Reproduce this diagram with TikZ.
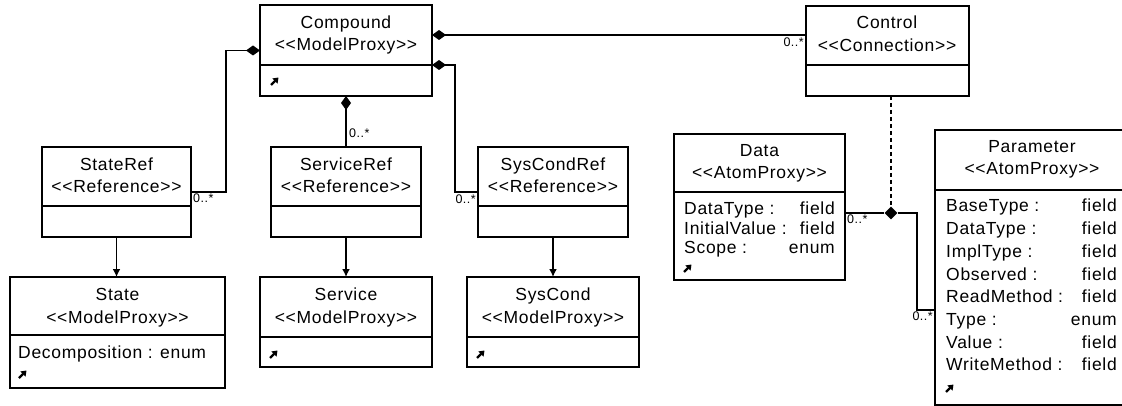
\documentclass[tikz,border=0pt]{standalone}
\usepackage{fontspec}
\setmainfont{Liberation Sans}[LetterSpace=4.0]
\usetikzlibrary{arrows.meta,shapes.geometric,calc}
\tikzset{
  classbox/.style={draw, line width=1.6pt, rectangle, inner sep=0pt, outer sep=0pt},
  divline/.style={line width=1.5pt},
  txt/.style={font=\fontsize{17.5}{20}\selectfont, inner sep=0pt, text height=13pt, text depth=3pt},
  mult/.style={font=\fontsize{12.5}{14}\selectfont, inner sep=1pt},
  conn/.style={line width=1.6pt},
  comp/.style={conn, -{Diamond[length=14pt,width=10pt]}},
  dep/.style={conn, -{Latex[length=8pt,width=8pt]}},
  assocd/.style={diamond, fill=black, inner sep=0pt, minimum width=13pt, minimum height=13pt},
  ico/.pic={\draw[line width=2.4pt, -{Triangle[length=5pt,width=7pt]}] (-4,4) -- (3.5,-3.5);}
}
\newcommand\umlclass[6]{%
  \node[classbox, minimum width={#4-#2}, minimum height={#5-#3}] (#1) at ({(#2+#4)/2},{(#3+#5)/2}) {};
  \draw[divline] (#1.west |- 0,#6) -- (#1.east |- 0,#6);
}
\newcommand\umltitle[6]{%
  \node[txt] (#1-name) at (#2,#3) {#4};
  \node[txt] (#1-stereo) at (#2,#5) {#6};
}
\begin{document}
\begin{tikzpicture}[x=1pt,y=-1pt]
\useasboundingbox (0,0) rectangle (1122,406);
\clip (0,0) rectangle (1122,406);
\fill[white] (0,0) rectangle (1122,406);

% classes
\umlclass{compound}{260}{5}{432}{96}{65}
\umlclass{control}{806}{6}{969}{96}{65}
\umlclass{stateref}{42}{147}{191}{237}{206}
\umlclass{serviceref}{271}{147}{421}{237}{206}
\umlclass{syscondref}{478}{147}{628}{237}{206}
\umlclass{state}{10}{277}{225}{388}{335}
\umlclass{service}{260}{277}{432}{367}{337}
\umlclass{syscond}{467}{277}{639}{367}{337}
\umlclass{data}{674}{134}{845}{280}{192}
\umlclass{parameter}{935}{130}{1129}{405}{190}

% titles
\umltitle{compound}{346}{24}{Compound}{46}{<{}<ModelProxy>{}>}
\umltitle{control}{887}{24}{Control}{47}{<{}<Connection>{}>}
\umltitle{stateref}{116.5}{166}{StateRef}{188}{<{}<Reference>{}>}
\umltitle{serviceref}{346}{166}{ServiceRef}{188}{<{}<Reference>{}>}
\umltitle{syscondref}{553}{166}{SysCondRef}{188}{<{}<Reference>{}>}
\umltitle{state}{117.5}{295}{State}{318}{<{}<ModelProxy>{}>}
\umltitle{service}{346}{295}{Service}{318}{<{}<ModelProxy>{}>}
\umltitle{syscond}{553}{295}{SysCond}{318}{<{}<ModelProxy>{}>}
\umltitle{data}{759.5}{152}{Data}{174}{<{}<AtomProxy>{}>}
\umltitle{parameter}{1032}{148}{Parameter}{170}{<{}<AtomProxy>{}>}

% attributes
\node[txt, anchor=west] (state-a1) at (18,353) {Decomposition : enum};
\foreach \k/\v [count=\i] in {DataType/field, InitialValue/field, Scope/enum}{
  \node[txt, anchor=west] (data-k\i) at (684,{210+19.2*(\i-1)}) {\k{} :};
  \node[txt, anchor=east] (data-v\i) at (835,{210+19.2*(\i-1)}) {\v};
}
\foreach \k/\v [count=\i] in {BaseType/field, DataType/field, ImplType/field, Observed/field, ReadMethod/field, Type/enum, Value/field, WriteMethod/field}{
  \node[txt, anchor=west] (par-k\i) at (946,{207+22.7*(\i-1)}) {\k{} :};
  \node[txt, anchor=east] (par-v\i) at (1117,{207+22.7*(\i-1)}) {\v};
}

% icons
\pic (compound-ico) at (275,81) {ico};
\pic (state-ico) at (23,374) {ico};
\pic (service-ico) at (274,354) {ico};
\pic (syscond-ico) at (481,354) {ico};
\pic (data-ico) at (688,268) {ico};
\pic (parameter-ico) at (950,388) {ico};

% compositions
\draw[comp] (stateref.east) -- ++(35,0) |- (compound.west);
\draw[comp] ([yshift=-29pt]control.north west) -- ([yshift=-29pt]control.north west -| compound.east);
\draw[comp] (syscondref.west) -- ++(-23,0) |- ([yshift=-60pt]compound.north east);
\draw[comp] (serviceref.north) -- (compound.south);

% dependencies
\draw[dep] (stateref.south) -- (stateref.south |- state.north);
\draw[dep] (serviceref.south) -- (service.north);
\draw[dep] (syscondref.south) -- (syscondref.south |- syscond.north);

% association class link
\node[assocd] (assoc) at (891,213) {};
\draw[conn] (data.east |- assoc.west) -- (assoc.west);
\draw[conn] (assoc.east) -- ++(19,0) |- ([yshift=-180pt]parameter.north west);
\draw[conn, dash pattern=on 4pt off 3pt] (assoc.north |- control.south) -- (assoc.north);

% multiplicities
\node[mult, anchor=north west] (m-stateref) at (192,193) {0..*};
\node[mult, anchor=west] (m-serviceref) at (348,133) {0..*};
\node[mult, anchor=north east] (m-syscondref) at (477,194) {0..*};
\node[mult, anchor=north east] (m-control) at (805,37) {0..*};
\node[mult, anchor=north west] (m-data) at (846,214) {0..*};
\node[mult, anchor=north east] (m-parameter) at (934,311) {0..*};
\end{tikzpicture}
\end{document}
